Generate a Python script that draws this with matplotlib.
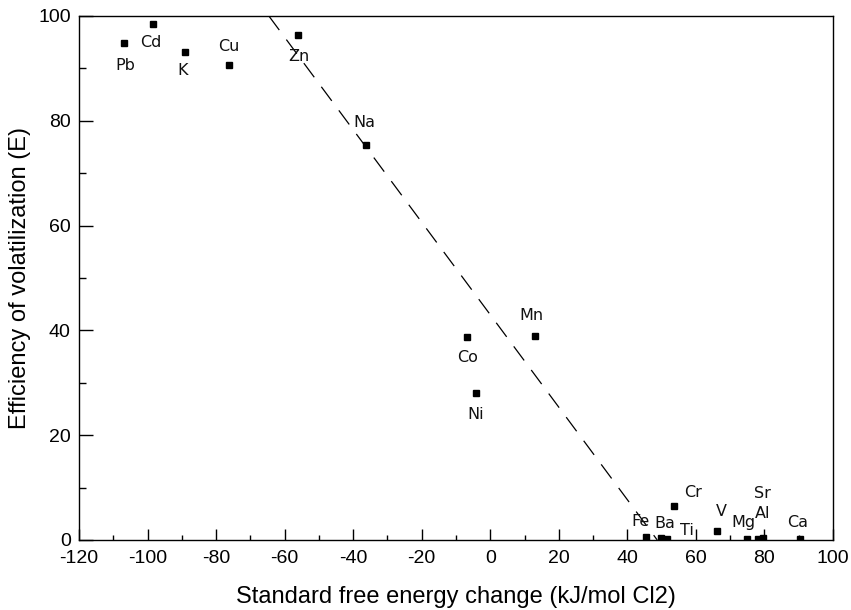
import numpy as np
import matplotlib
matplotlib.use("Agg")
import matplotlib.pyplot as plt
from matplotlib.ticker import MultipleLocator

# element, free energy change (kJ/mol Cl2), volatilization efficiency (E)
elements = ["Pb", "Cd", "K", "Cu", "Zn", "Na", "Co", "Mn", "Ni",
            "Fe", "Ba", "Ti", "Cr", "V", "Mg", "Al", "Sr", "Ca"]
energy = [-106.9, -98.5, -89.0, -76.2, -56.0, -36.3, -6.7, 12.9, -4.3,
          45.5, 49.7, 51.7, 53.7, 66.0, 74.9, 78.0, 79.5, 90.3]
efficiency = [94.8, 98.5, 93.2, 90.6, 96.4, 75.4, 38.7, 38.9, 28.0,
              0.5, 0.4, 0.1, 6.5, 1.8, 0.2, 0.2, 0.3, 0.25]

# dashed trend line end points
trend_x = [-64.6, 48.7]
trend_y = [100, 0]

# label offsets from the marker, in pixels (dx, dy)
label_offsets = {
    "Pb": (1, -22), "Cd": (-2, -19), "K": (-3, -19), "Cu": (0, 19),
    "Zn": (1, -22), "Na": (-1, 22), "Co": (0, -20), "Mn": (-3, 21),
    "Ni": (0, -21), "Fe": (-6, 16), "Ba": (4, 14), "Ti": (19, 9),
    "Cr": (19, 13), "V": (5, 19), "Mg": (-4, 16), "Al": (5, 25),
    "Sr": (0, 45), "Ca": (-2, 16),
}

plt.rcParams['font.family'] = ['Liberation Sans', 'DejaVu Sans']
plt.rcParams['axes.unicode_minus'] = False

fig = plt.figure(figsize=(8.51, 6.10), dpi=100)
ax = fig.add_axes([0.0928, 0.1148, 0.8861, 0.859])

ax.plot(trend_x, trend_y, color="black", lw=0.9, dashes=(14, 9.5))
ax.plot(energy, efficiency, ls="none", marker="s", ms=3.8, color="black")

for name, x, y in zip(elements, energy, efficiency):
    dx, dy = label_offsets[name]
    ax.annotate(name, (x, y), xytext=(dx, dy), textcoords="offset pixels",
                ha="center", va="center", fontsize=11.5,
                family=["DejaVu Sans"], color="#111111")

ax.set_xlim(-120, 100)
ax.set_ylim(0, 100)
ax.xaxis.set_major_locator(MultipleLocator(20))
ax.xaxis.set_minor_locator(MultipleLocator(10))
ax.yaxis.set_major_locator(MultipleLocator(20))
ax.yaxis.set_minor_locator(MultipleLocator(10))

ax.tick_params(axis="x", which="major", direction="in", length=7.7, width=1, pad=7, labelsize=14)
ax.tick_params(axis="x", which="minor", direction="in", length=3.6, width=1)
ax.tick_params(axis="y", which="major", direction="in", length=10, width=1, pad=6, labelsize=14)
ax.tick_params(axis="y", which="minor", direction="in", length=5, width=1)

for sp in ax.spines.values():
    sp.set_linewidth(1)

ax.set_xlabel("Standard free energy change (kJ/mol Cl2)", fontsize=17, labelpad=14)
ax.set_ylabel("Efficiency of volatilization (E)", fontsize=17, labelpad=5)

fig.savefig("out.png", dpi=100)
